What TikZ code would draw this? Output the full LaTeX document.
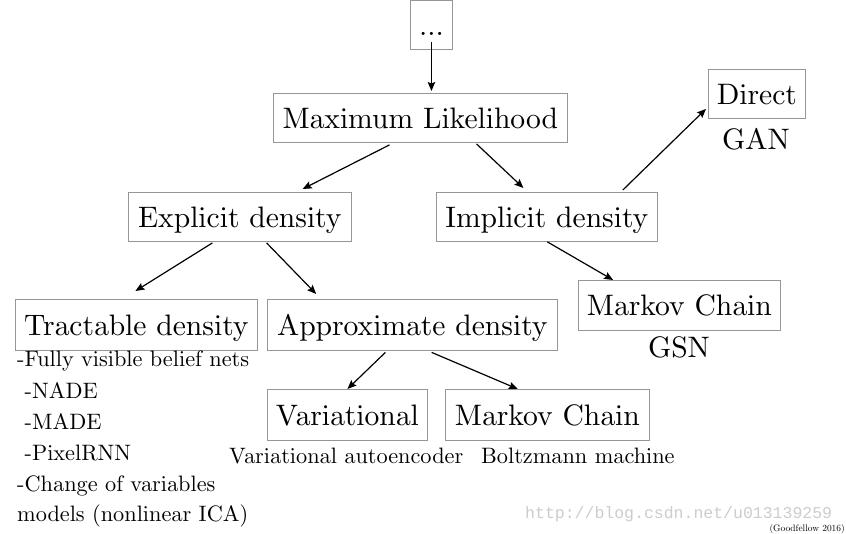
\documentclass[tikz,border=0pt]{standalone}
\usepackage{fontspec}
\newfontfamily\wmfont{Liberation Mono}
\usetikzlibrary{arrows.meta,calc}
\font\bigrm=cmr10 at 29.6pt
\font\smallrm=cmr10 at 22.3pt
\font\tinyrm=cmr10 at 9.4pt
\definecolor{boxgray}{RGB}{150,150,150}
\definecolor{wmgray}{RGB}{205,205,205}
\tikzset{
  box/.style={draw=boxgray, line width=0.9pt, rectangle, anchor=north west,
    font=\bigrm, inner xsep=3pt, inner ysep=6pt, text height=29pt, text depth=8pt,
    minimum height=49pt},
  arr/.style={line width=1.2pt, -{Stealth[length=9pt,width=7.5pt,inset=1.5pt]}},
  small/.style={font=\smallrm, inner sep=0pt, anchor=base west},
  big/.style={font=\bigrm, inner sep=0pt, anchor=base}
}
\begin{document}
\begin{tikzpicture}[x=1pt,y=-1pt]
\clip (0,0) rectangle (846,534);
\fill[white] (0,0) rectangle (846,534);
% boxes
\node[box, minimum width=42pt] (dots) at (410,0) {...};
\node[box, minimum width=294pt] (ml) at (273,93) {Maximum Likelihood};
\node[box, minimum width=97pt] (direct) at (708,69) {Direct};
\node[box, minimum width=223pt] (expl) at (128,192) {Explicit density};
\node[box, minimum width=221pt] (impl) at (436,192) {Implicit density};
\node[box, minimum width=202pt, minimum height=50pt] (gsnmc) at (578,280) {Markov Chain};
\node[box, minimum width=242pt, minimum height=50.5pt] (tract) at (15,299.5) {Tractable density};
\node[box, minimum width=290pt, minimum height=51pt] (approx) at (267,299.5) {Approximate density};
\node[box, minimum width=160pt, minimum height=51pt] (var) at (267,389) {Variational};
\node[box, minimum width=204pt, minimum height=51pt] (bmmc) at (445,389) {Markov Chain};
% labels
\node[big] (gan) at (756,150) {GAN};
\node[big] (gsn) at (679,358) {GSN};
\node[small] (l1) at (17,367) {-Fully visible belief nets};
\node[small] (l2) at (24.5,398.5) {-NADE};
\node[small] (l3) at (24.5,429.5) {-MADE};
\node[small] (l4) at (24.5,460) {-PixelRNN};
\node[small] (l5) at (17,491) {-Change of variables};
\node[small] (l6) at (17,521.5) {models (nonlinear ICA)};
\node[small] (vae) at (229,463) {Variational autoencoder};
\node[small] (bm) at (481,463) {Boltzmann machine};
\node[font=\wmfont\fontsize{16.5pt}{18pt}\selectfont, text=wmgray, inner sep=0pt, anchor=base west] (wm) at (525,518) {http://blog.csdn.net/u013139259};
\node[font=\tinyrm, inner sep=0pt, anchor=base east] (cite) at (845,531) {(Goodfellow 2016)};
% connectors
\draw[arr] ($(dots.south)+(0,-8)$) -- ($(dots.south |- ml.north)+(0,-2)$);
\draw[arr] ($(ml.south west)!0.395!(ml.south east)+(0,2)$) -- ($(expl.north west)!0.78!(expl.north east)+(0,-3)$);
\draw[arr] ($(ml.south west)!0.69!(ml.south east)+(0,1)$) -- ($(impl.north west)!0.394!(impl.north east)+(0,-4)$);
\draw[arr] ($(impl.north west)!0.842!(impl.north east)+(0,-2)$) -- ($(direct.south west)+(-2,-10)$);
\draw[arr] ($(expl.south west)!0.377!(expl.south east)+(0,1)$) -- ($(tract.north)+(-1,-8.5)$);
\draw[arr] ($(expl.south west)!0.619!(expl.south east)+(0,1)$) -- ($(approx.north west)!0.169!(approx.north east)+(0,-5.5)$);
\draw[arr] ($(impl.south west)!0.502!(impl.south east)+(0,0)$) -- ($(gsnmc.north west)!0.173!(gsnmc.north east)$);
\draw[arr] ($(approx.south west)!0.407!(approx.south east)+(0,1)$) -- (var.north);
\draw[arr] ($(approx.south west)!0.566!(approx.south east)+(0,1)$) -- ($(bmmc.north west)!0.355!(bmmc.north east)$);
\end{tikzpicture}
\end{document}
